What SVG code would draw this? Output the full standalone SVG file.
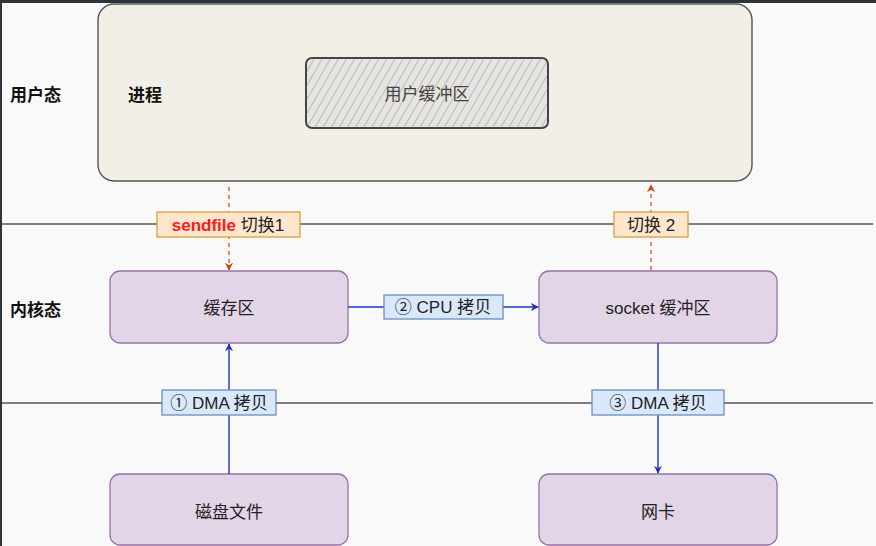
<svg xmlns="http://www.w3.org/2000/svg" width="876" height="546" viewBox="0 0 876 546">
<defs>
<style>
.t{font-family:"Liberation Sans","Noto Sans CJK SC",sans-serif;font-size:17px;fill:#222;text-anchor:middle;dominant-baseline:central}
.b{font-weight:bold;font-size:17px;fill:#111;text-anchor:start}
.node{fill:#e1d5e7;stroke:#9673a6;stroke-width:1.3}
.lblb{fill:#dae8fc;stroke:#6c8ebf;stroke-width:1.3}
.lblo{fill:#ffe6cc;stroke:#d6a23a;stroke-width:1.3}
.sep{stroke:#555;stroke-width:1.5}
.blue{stroke:#2233cc;stroke-width:1.4;fill:none}
.red{stroke:#cc4411;stroke-width:1.2;fill:none;stroke-dasharray:4 4}
</style>
<pattern id="hatch" patternUnits="userSpaceOnUse" width="7" height="7" patternTransform="rotate(30)">
<line x1="0" y1="0" x2="0" y2="7" stroke="#777" stroke-width="0.8"/>
</pattern>
<marker id="ab" viewBox="0 0 10 10" refX="9" refY="5" markerWidth="8" markerHeight="8" orient="auto" markerUnits="userSpaceOnUse">
<path d="M0,0 L10,5 L0,10 L3,5 Z" fill="#2233cc"/>
</marker>
<marker id="ar" viewBox="0 0 10 10" refX="9" refY="5" markerWidth="8" markerHeight="8" orient="auto" markerUnits="userSpaceOnUse">
<path d="M0,0 L10,5 L0,10 L3,5 Z" fill="#cc4411"/>
</marker>
</defs>
<rect width="876" height="546" fill="#f9f9f9"/>
<rect x="0" y="0" width="876" height="3" fill="#2f343b"/>
<rect x="0" y="0" width="2" height="546" fill="#2f343b"/>

<g id="separators">
<line class="sep" x1="2" y1="224" x2="873" y2="224"/>
<line class="sep" x1="2" y1="403" x2="873" y2="403"/>
</g>

<g id="process">
<rect x="98" y="4" width="654" height="177" rx="16" fill="#f2efe7" stroke="#555" stroke-width="1.4"/>
<text class="t b" x="128" y="95">进程</text>
</g>
<g id="user-buffer">
<rect x="306" y="58" width="242" height="70" rx="6" fill="#e6e4e0" stroke="#444" stroke-width="2"/>
<rect x="306" y="58" width="242" height="70" rx="6" fill="url(#hatch)"/>
<text class="t" x="427" y="94" style="fill:#444">用户缓冲区</text>
</g>

<g id="labels">
<text class="t b" x="10" y="95">用户态</text>
<text class="t b" x="10" y="310">内核态</text>
</g>

<g id="cache">
<rect class="node" x="110" y="271" width="238" height="72" rx="10"/>
<text class="t" x="229" y="308">缓存区</text>
</g>
<g id="socket-buffer">
<rect class="node" x="539" y="271" width="238" height="72" rx="10"/>
<text class="t" x="658" y="308">socket 缓冲区</text>
</g>
<g id="disk">
<rect class="node" x="110" y="474" width="238" height="71" rx="10"/>
<text class="t" x="229" y="512">磁盘文件</text>
</g>
<g id="nic">
<rect class="node" x="539" y="474" width="238" height="71" rx="10"/>
<text class="t" x="658" y="512">网卡</text>
</g>

<g id="connectors">
<line class="red" x1="229" y1="187" x2="229" y2="270" marker-end="url(#ar)"/>
<line class="red" x1="651" y1="270" x2="651" y2="185" marker-end="url(#ar)"/>
<line class="blue" x1="348" y1="307" x2="538" y2="307" marker-end="url(#ab)"/>
<line class="blue" x1="229" y1="474" x2="229" y2="344" marker-end="url(#ab)"/>
<line class="blue" x1="658" y1="343" x2="658" y2="473" marker-end="url(#ab)"/>
</g>

<g id="edge-labels">
<rect class="lblo" x="157" y="212" width="143" height="25"/>
<text class="t" x="228" y="225"><tspan style="fill:#ff1a1a;font-weight:bold">sendfile</tspan> 切换1</text>
<rect class="lblo" x="614" y="212" width="74" height="25"/>
<text class="t" x="651" y="225">切换 2</text>
<rect class="lblb" x="384" y="295" width="119" height="24"/>
<text class="t" x="443" y="307">② CPU 拷贝</text>
<rect class="lblb" x="162" y="390" width="114" height="25"/>
<text class="t" x="219" y="403">① DMA 拷贝</text>
<rect class="lblb" x="592" y="390" width="132" height="25"/>
<text class="t" x="658" y="403">③ DMA 拷贝</text>
</g>
</svg>
